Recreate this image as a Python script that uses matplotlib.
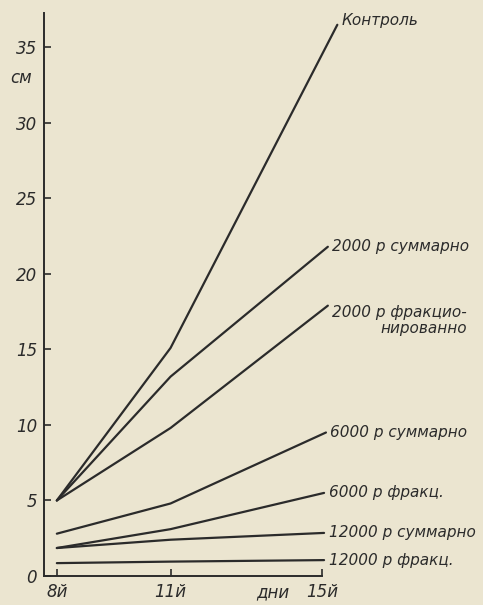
import matplotlib
matplotlib.use("Agg")
import matplotlib.pyplot as plt

# рост (см) по дням после облучения
labels = ["Контроль", "2000 р суммарно", "2000 р фракцио-\nнированно",
          "6000 р суммарно", "6000 р фракц.", "12000 р суммарно", "12000 р фракц."]
days = [[8, 11, 15.4], [8, 11, 15.15], [8, 11, 15.15],
        [8, 11, 15.1], [8, 11, 15.05], [8, 11, 15.05], [8, 11, 15.05]]
heights = [[5.0, 15.1, 36.5],
           [5.0, 13.2, 21.8],
           [5.0, 9.8, 17.9],
           [2.8, 4.8, 9.5],
           [1.85, 3.1, 5.5],
           [1.85, 2.4, 2.85],
           [0.85, 0.95, 1.05]]
label_dy = [0.3, 0.0, -1.0, 0.0, 0.0, 0.0, 0.0]

x_ticks = [8, 11, 15]
x_ticklabels = ["8й", "11й", "15й"]
y_ticks = [0, 5, 10, 15, 20, 25, 30, 35]

paper = "#ebe5d0"
ink = "#2b2b2b"

fig = plt.figure(figsize=(4.83, 6.05), dpi=100, facecolor=paper)
ax = fig.add_axes([0.091, 0.048, 0.576, 0.931])
ax.set_facecolor(paper)

for d, h in zip(days, heights):
    ax.plot(d, h, color=ink, lw=1.6, clip_on=False, solid_capstyle="round")

for d, h, lab, dy in zip(days, heights, labels, label_dy):
    ax.text(d[-1] + 0.12, h[-1] + dy, lab, fontsize=11, style="italic",
            color=ink, ha="left", va="center", linespacing=1.05,
            multialignment="right")

ax.set_xlim(7.66, 15)
ax.set_ylim(0, 37.3)
ax.spines["top"].set_visible(False)
ax.spines["right"].set_visible(False)
for s in ("left", "bottom"):
    ax.spines[s].set_color(ink)
    ax.spines[s].set_linewidth(1.4)

ax.set_xticks(x_ticks)
ax.set_xticklabels(x_ticklabels)
ax.set_yticks(y_ticks)
ax.tick_params(direction="in", length=5, width=1.2, colors=ink,
               labelsize=12, pad=5)
for t in ax.get_xticklabels() + ax.get_yticklabels():
    t.set_style("italic")

ax.text(-0.045, 33.0, "см", transform=ax.get_yaxis_transform(),
        fontsize=12, style="italic", color=ink, ha="right", va="center")
ax.annotate("дни", xy=(13.7, 0), xytext=(0, -5), textcoords="offset points",
            fontsize=12, style="italic", color=ink, ha="center", va="top")

fig.savefig("out.png", dpi=100, facecolor=paper)
